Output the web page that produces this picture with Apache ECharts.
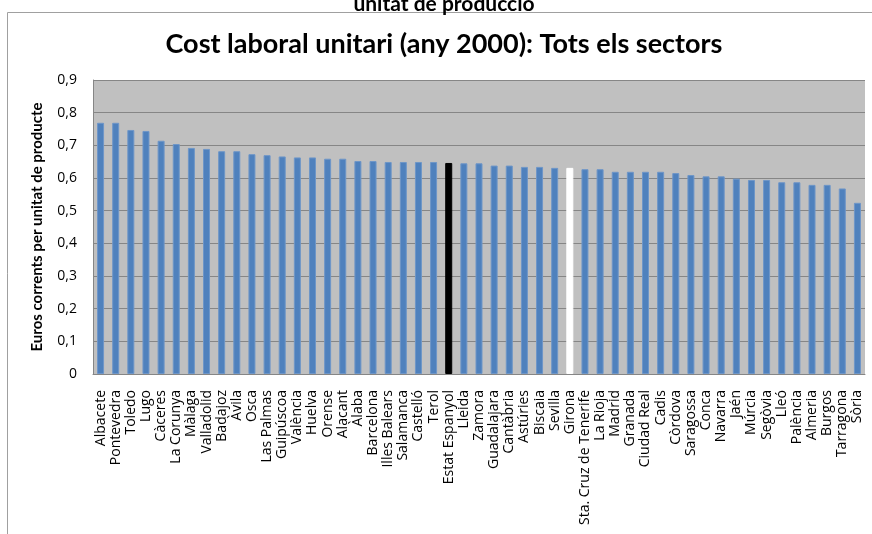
<!DOCTYPE html>
<html><head><meta charset="utf-8">
<script src="https://cdn.jsdelivr.net/npm/echarts@6/dist/echarts.min.js"></script>
<style>html,body{margin:0;padding:0;background:#fff}#c{width:872px;height:534px}</style>
</head><body><div id="c"></div>
<script>
const categories = ['Albacete','Pontevedra','Toledo','Lugo','Càceres','La Corunya','Màlaga','Valladolid','Badajoz','Àvila','Osca','Las Palmas','Guipúscoa','València','Huelva','Orense','Alacant','Àlaba','Barcelona','Illes Balears','Salamanca','Castelló','Terol','Estat Espanyol','Lleida','Zamora','Guadalajara','Cantàbria','Astúries','Biscaia','Sevilla','Girona','Sta. Cruz de Tenerife','La Rioja','Madrid','Granada','Ciudad Real','Cadis','Còrdova','Saragossa','Conca','Navarra','Jaén','Múrcia','Segòvia','Lleó','Palència','Almeria','Burgos','Tarragona','Sòria'];
const values = [0.769,0.769,0.747,0.744,0.714,0.704,0.692,0.689,0.682,0.682,0.673,0.670,0.666,0.663,0.663,0.659,0.659,0.652,0.652,0.649,0.649,0.649,0.649,0.646,0.645,0.645,0.638,0.638,0.634,0.634,0.631,0.631,0.627,0.627,0.619,0.619,0.619,0.619,0.615,0.609,0.605,0.605,0.598,0.594,0.594,0.587,0.587,0.579,0.579,0.568,0.524];
const blackBar = 'Estat Espanyol';
const whiteBar = 'Girona';
const yTickLabels = ['0','0,1','0,2','0,3','0,4','0,5','0,6','0,7','0,8','0,9'];
const titleText = 'Cost laboral unitari (any 2000): Tots els sectors';
const topText = 'unitat de producció';
const yAxisName = 'Euros corrents per unitat de producte';

const chart = echarts.init(document.getElementById('c'), null, {renderer:'canvas'});
const seriesData = values.map((v,i)=>{
  const c = categories[i];
  if (c === blackBar) return {value:v, itemStyle:{color:'#000000', borderColor:'#000000'}};
  if (c === whiteBar) return {value:v, itemStyle:{color:'#ffffff', borderColor:'#ffffff'}};
  return v;
});
chart.setOption({
  animation:false,
  backgroundColor:'#ffffff',
  grid:{left:93,right:7,top:80,bottom:160,show:true,backgroundColor:'#C0C0C0',borderWidth:0},
  xAxis:{type:'category',data:categories,
    axisLine:{lineStyle:{color:'#868686',width:1}},
    axisTick:{show:false},
    axisLabel:{interval:0,rotate:90,margin:16,fontSize:14,color:'#000',fontFamily:'Open Sans'}},
  yAxis:{type:'value',min:0,max:0.9,interval:0.1,
    axisLine:{show:true,lineStyle:{color:'#868686',width:1}},
    axisTick:{show:false},
    splitLine:{lineStyle:{color:'#868686',width:1}},
    axisLabel:{margin:16,fontSize:14,color:'#000',fontFamily:'Open Sans',
      formatter:(v)=>yTickLabels[Math.round(v*10)]}},
  series:[{type:'bar',data:seriesData,barWidth:7,
    itemStyle:{color:'#4F81BD',borderColor:'#6E96C8',borderWidth:1}}],
  graphic:[
    {type:'rect',silent:true,z:-1,shape:{x:7.5,y:12.5,width:900,height:600},style:{fill:null,stroke:'#A0A0A0',lineWidth:1}},
    {type:'text',x:444,y:4,style:{text:topText,font:'bold 21px Lato',fill:'#000',align:'center',verticalAlign:'middle'}},
    {type:'text',x:444,y:44,style:{text:titleText,font:'bold 27px Lato',fill:'#000',align:'center',verticalAlign:'middle'}},
    {type:'text',x:37,y:227,rotation:Math.PI/2,style:{text:yAxisName,font:'bold 15px Lato',fill:'#000',align:'center',verticalAlign:'middle'}}
  ]
});
</script></body></html>
